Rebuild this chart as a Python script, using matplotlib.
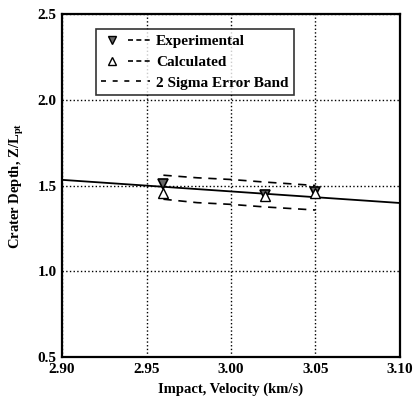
import matplotlib.pyplot as plt
from matplotlib.lines import Line2D
from matplotlib.legend_handler import HandlerTuple

# Crater depth vs impact velocity
vel_fit = [2.90, 3.10]
depth_fit = [1.533, 1.398]

vel_exp = [2.96, 3.02, 3.05]
depth_exp = [1.51, 1.445, 1.46]

vel_calc = [2.96, 3.02, 3.05]
depth_calc = [1.455, 1.44, 1.455]

vel_band = [2.96, 2.98, 3.00, 3.02, 3.05]
band_upper = [1.56, 1.545, 1.535, 1.52, 1.50]
band_lower = [1.42, 1.40, 1.39, 1.375, 1.357]

plt.rcParams['font.family'] = ['Liberation Serif', 'DejaVu Serif']
plt.rcParams['font.weight'] = 'bold'
plt.rcParams['mathtext.fontset'] = 'custom'
plt.rcParams['mathtext.rm'] = 'Liberation Serif:bold'
plt.rcParams['mathtext.it'] = 'Liberation Serif:bold'

fig = plt.figure(figsize=(4.18, 4.05), dpi=100)
ax = fig.add_axes([62 / 418, 1 - 357 / 405, 338 / 418, 343 / 405])

ax.plot(vel_fit, depth_fit, color='black', lw=1.3)
ax.plot(vel_band, band_upper, color='black', lw=1.2, ls=(0, (5, 4)))
ax.plot(vel_band, band_lower, color='black', lw=1.2, ls=(0, (5, 4)))
ax.plot(vel_exp, depth_exp, 'v', color='black', ms=7, mfc='0.4', mew=1.2, ls='none')
ax.plot(vel_calc, depth_calc, '^', color='black', ms=7, mfc='white', mew=1.0, ls='none')

ax.set_xlim(2.90, 3.10)
ax.set_ylim(0.5, 2.5)
ax.set_xticks([2.90, 2.95, 3.00, 3.05, 3.10])
ax.set_yticks([0.5, 1.0, 1.5, 2.0, 2.5])
ax.set_xticklabels(['2.90', '2.95', '3.00', '3.05', '3.10'])
ax.set_yticklabels(['0.5', '1.0', '1.5', '2.0', '2.5'])
ax.tick_params(length=0, labelsize=11, pad=4)
ax.grid(True, color='black', ls=':', lw=1.0)
for s in ax.spines.values():
    s.set_linewidth(1.6)

ax.set_xlabel('Impact, Velocity (km/s)', fontsize=10.5, fontweight='bold', labelpad=5)
ax.set_ylabel(r'Crater Depth, Z/L$_{pt}$', fontsize=10.5, fontweight='bold', labelpad=8)

# legend entries: marker on the left, short dashed segment on the right
dash = dict(color='black', ls=(0, (3, 2)), lw=1.2)
handles = [
    (Line2D([], [], color='black', marker='v', ms=6, mfc='0.4', ls='none'),
     Line2D([], [], **dash)),
    (Line2D([], [], color='black', marker='^', ms=6, mfc='white', ls='none'),
     Line2D([], [], **dash)),
    Line2D([], [], color='black', ls=(0, (3, 4)), lw=1.2),
]
leg = ax.legend(handles, ['Experimental', 'Calculated', '2 Sigma Error Band'],
                handler_map={tuple: HandlerTuple(ndivide=None, pad=0.3)},
                loc='upper left', bbox_to_anchor=(0.1, 0.955), fontsize=11,
                frameon=True, fancybox=False, edgecolor='black',
                handlelength=3.2, handletextpad=0.4, labelspacing=0.45,
                borderpad=0.35, borderaxespad=0)
leg.get_frame().set_linewidth(1.2)

fig.savefig('out.png', dpi=100, facecolor='white')
